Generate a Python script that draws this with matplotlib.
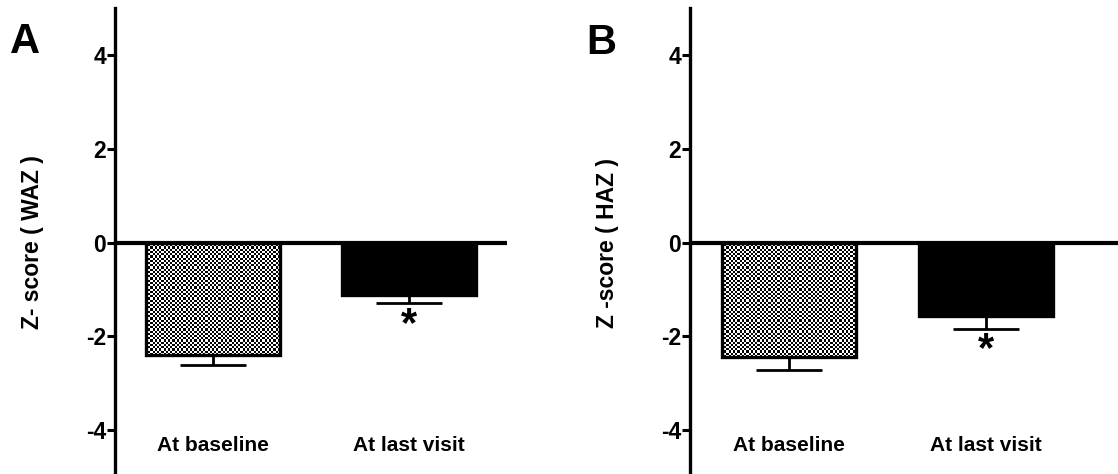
import numpy as np
import matplotlib
matplotlib.use("Agg")
import matplotlib.pyplot as plt

plt.rcParams['font.family'] = ['Liberation Sans', 'DejaVu Sans']
plt.rcParams['font.weight'] = 'bold'

categories = ["At baseline", "At last visit"]
waz_mean = [-2.40, -1.11]
waz_se = [0.22, 0.19]
haz_mean = [-2.45, -1.57]
haz_se = [0.26, 0.28]
yticks = [-4, -2, 0, 2, 4]

fig = plt.figure(figsize=(11.18, 4.74), dpi=100)
axA = fig.add_axes([0.1029, -0.0064, 0.3506, 0.9895])
axB = fig.add_axes([0.6172, -0.0064, 0.3828, 0.9895])

BAR_W = 0.68


def checker_fill(ax, xc, val):
    # fine black/white checkerboard texture inside the bar
    x0, x1 = xc - BAR_W / 2, xc + BAR_W / 2
    p = ax.transData.transform([[x0, val], [x1, 0]])
    nx = max(int(round(abs(p[1, 0] - p[0, 0]) / 2.2)), 1)
    ny = max(int(round(abs(p[1, 1] - p[0, 1]) / 2.2)), 1)
    board = np.indices((ny, nx)).sum(axis=0) % 2
    ax.imshow(board, cmap='gray', extent=(x0, x1, val, 0), aspect='auto',
              interpolation='nearest', zorder=1.5)


def draw_panel(ax, means, ses, ylabel, xmax):
    x = np.arange(len(categories))
    ax.set_xlim(-0.5, xmax)
    ax.set_ylim(-5, 5)
    checker_fill(ax, x[0], means[0])
    ax.bar(x[0], means[0], width=BAR_W, facecolor='none', edgecolor='black',
           linewidth=2.4, zorder=2)
    ax.bar(x[1], means[1], width=BAR_W, color='black', edgecolor='black',
           linewidth=2.4, zorder=2)
    ax.errorbar(x, means, yerr=[ses, [0, 0]], fmt='none', ecolor='black',
                elinewidth=2.0, capsize=24, capthick=2.0, zorder=1)
    ax.axhline(0, color='black', lw=3, zorder=3)
    # significance mark under the last visit bar
    ax.text(x[1], means[1] - ses[1] - 0.45, '*', ha='center', va='center',
            fontsize=30, fontweight='bold')
    for xi, lab in zip(x, categories):
        ax.text(xi, -4.33, lab, ha='center', va='center', fontsize=15,
                fontweight='bold')
    ax.set_xlim(-0.5, xmax)
    ax.set_ylim(-5, 5)
    ax.set_yticks(yticks)
    ax.set_yticklabels([str(t) for t in yticks], fontsize=16.5, fontweight='bold')
    ax.tick_params(axis='y', length=6, width=2.2, pad=0.5)
    ax.set_xticks([])
    for s in ['top', 'right', 'bottom']:
        ax.spines[s].set_visible(False)
    ax.spines['left'].set_linewidth(2.4)
    ax.set_ylabel(ylabel, fontsize=16.5, fontweight='bold', labelpad=30)


draw_panel(axA, waz_mean, waz_se, "Z- score ( WAZ )", 1.5)
draw_panel(axB, haz_mean, haz_se, "Z -score ( HAZ )", 1.67)

fig.text(10 / 1118, 1 - 53 / 474, "A", fontsize=30, fontweight='bold')
fig.text(586 / 1118, 1 - 54 / 474, "B", fontsize=30, fontweight='bold')

fig.savefig("out.png", dpi=100)
